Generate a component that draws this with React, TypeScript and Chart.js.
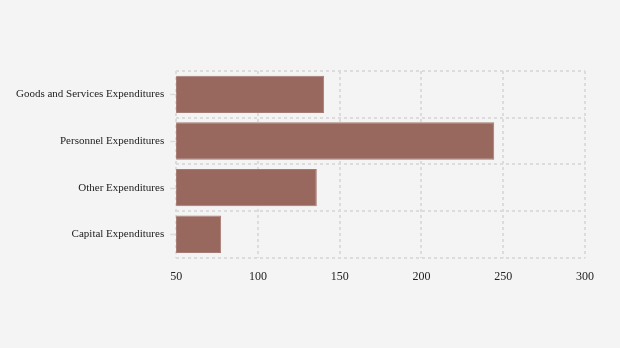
import React, { useEffect, useRef } from "react";
import { Chart, registerables } from "chart.js";

Chart.register(...registerables);

const categories = [
  "Goods and Services Expenditures",
  "Personnel Expenditures",
  "Other Expenditures",
  "Capital Expenditures",
];
const values = [140.5, 244.5, 136, 77.5];
const xTicksMin = 50;
const xTicksMax = 300;
const xStep = 50;

const gridColor = "#dcdcdc";

const labelTicks = {
  id: "labelTicks",
  afterDraw(chart: any) {
    const y = chart.scales.y;
    const { ctx, chartArea } = chart;
    ctx.save();
    ctx.strokeStyle = gridColor;
    ctx.lineWidth = 1.5;
    y.ticks.forEach((_: any, i: number) => {
      const py = Math.round(y.getPixelForTick(i)) + 0.5;
      ctx.beginPath();
      ctx.moveTo(chartArea.left - 6, py);
      ctx.lineTo(chartArea.left, py);
      ctx.stroke();
    });
    ctx.restore();
  },
};

export default function App() {
  const ref = useRef<HTMLCanvasElement>(null);
  useEffect(() => {
    document.body.style.margin = "0";
    document.body.style.background = "#f4f4f4";
    const ctx = ref.current!;
    const font = "'Liberation Serif', 'Times New Roman', serif";
    const chart = new Chart(ctx, {
      type: "bar",
      data: {
        labels: categories,
        datasets: [
          {
            data: values,
            backgroundColor: "#98685f",
            borderColor: "#a57a72",
            borderWidth: 1,
            barPercentage: 0.8,
            categoryPercentage: 1,
          },
        ],
      },
      plugins: [labelTicks],
      options: {
        indexAxis: "y",
        animation: false,
        responsive: false,
        layout: { padding: { top: 71, right: 35, bottom: 52, left: 4 } },
        plugins: { legend: { display: false }, tooltip: { enabled: false } },
        scales: {
          x: {
            min: xTicksMin,
            max: xTicksMax,
            ticks: {
              stepSize: xStep,
              color: "#222",
              font: { family: font, size: 12 },
              padding: 12,
            },
            grid: { color: gridColor, lineWidth: 2, drawTicks: false },
            border: { display: false, dash: [3, 3] },
          },
          y: {
            ticks: {
              color: "#222",
              font: { family: font, size: 11 },
              padding: 12,
            },
            grid: { color: gridColor, lineWidth: 2, drawTicks: false },
            border: { display: false, dash: [3, 3] },
          },
        },
      },
    });
    return () => chart.destroy();
  }, []);
  return (
    <div style={{ width: 620, height: 348, background: "#f4f4f4" }}>
      <canvas ref={ref} width={620} height={348} />
    </div>
  );
}
